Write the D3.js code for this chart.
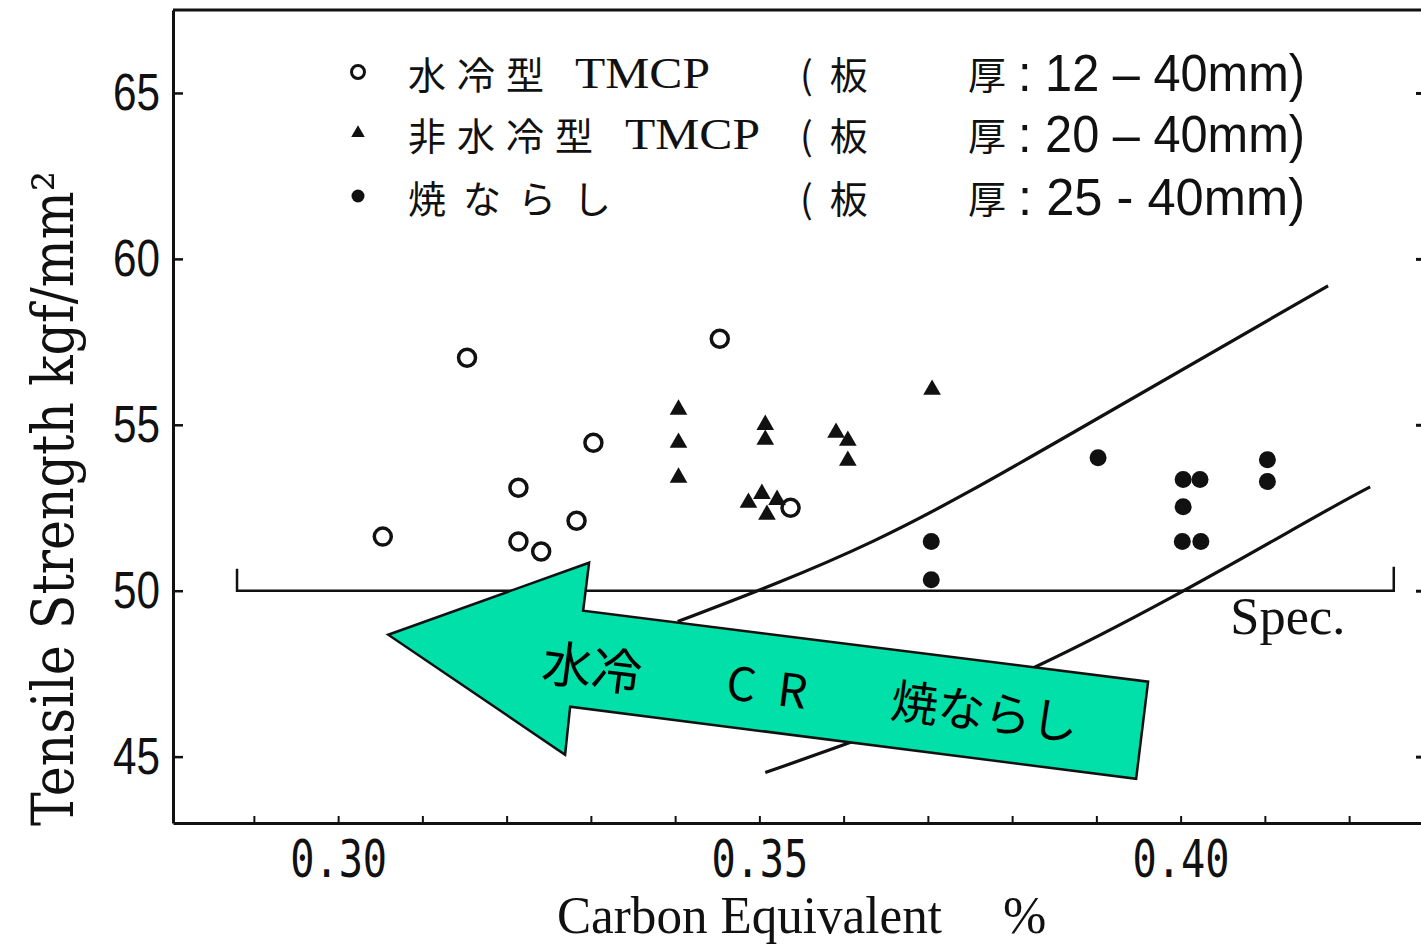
<!DOCTYPE html>
<html lang="ja">
<head>
  <meta charset="UTF-8">
  <title>Tensile Strength vs Carbon Equivalent</title>
  <style>
    html, body { margin: 0; padding: 0; background: #fff; }
    svg { display: block; }
  </style>
</head>
<body>
  <svg class="chart"></svg>
  <script src="https://cdn.jsdelivr.net/npm/d3@7"></script>
  <script>
    // tick labels
    var yTicks = [45, 50, 55, 60, 65];
    var xTicks = [0.30, 0.35, 0.40];
    var xMinorTicks = [0.29, 0.30, 0.31, 0.32, 0.33, 0.34, 0.35, 0.36, 0.37, 0.38, 0.39, 0.40, 0.41, 0.42];

    // 水冷型 TMCP (open circles): [CE %, TS kgf/mm2]
    var waterCooled = [
      [0.3053, 51.63], [0.3153, 57.02], [0.3214, 53.10], [0.3214, 51.48],
      [0.3241, 51.18], [0.3283, 52.11], [0.3303, 54.46], [0.3453, 57.59],
      [0.3537, 52.50]
    ];
    // 非水冷型 TMCP (filled triangles)
    var nonWaterCooled = [
      [0.3404, 55.46], [0.3404, 54.46], [0.3404, 53.41],
      [0.3507, 55.00], [0.3507, 54.55],
      [0.3487, 52.65], [0.3503, 52.92], [0.3521, 52.74], [0.3509, 52.29],
      [0.3591, 54.76], [0.3605, 54.52], [0.3605, 53.92],
      [0.3705, 56.06]
    ];
    // 焼ならし (filled circles)
    var normalized = [
      [0.3704, 51.48], [0.3704, 50.33], [0.3902, 54.01],
      [0.4003, 53.35], [0.4023, 53.35], [0.4003, 52.53],
      [0.4002, 51.48], [0.4024, 51.48],
      [0.4103, 53.95], [0.4103, 53.29]
    ];
    // trend lines
    var upperLine = [[0.3403, 49.07], [0.3634, 51.48], [0.3872, 54.76], [0.4175, 59.19]];
    var lowerLine = [[0.3507, 44.52], [0.3828, 47.71], [0.4133, 51.84], [0.4225, 53.13]];
    var specValue = 50;
    var specRange = [0.2880, 0.4253];

    // legend
    var legendNames = ['水冷型', '非水冷型', '焼ならし'];
    var legendCodes = ['TMCP', 'TMCP', ''];
    var legendThick = [': 12 – 40mm)', ': 20 – 40mm)', ': 25 - 40mm)'];

    // big arrow (data units)
    var arrowShape = [
      [0.30594, 48.674], [0.32979, 50.844], [0.32908, 49.397], [0.39614, 47.258],
      [0.39472, 44.334], [0.32754, 46.504], [0.32694, 45.057]
    ];
    var arrowLabels = ['水冷', 'C R', '焼ならし'];
    var arrowLabelPos = [[0.3302, 47.78], [0.3513, 47.18], [0.3768, 46.45]];
    var arrowLabelSize = [50, 46, 47];

    var svgWidth = 1421, svgHeight = 944;
    var plotLeft = 173, plotRight = 1430, plotTop = 10, plotBottom = 823;

    var svg = d3.select('svg')
      .attr('width', svgWidth)
      .attr('height', svgHeight);

    var xScale = d3.scaleLinear()
      .domain([0.2804, 0.4296])
      .range([plotLeft, plotRight]);

    var yScale = d3.scaleLinear()
      .domain([43.0, 67.5])
      .range([plotBottom, plotTop]);

    var ink = '#111';

    // frame top + right
    svg.append('line')
      .attr('x1', plotLeft).attr('x2', plotRight)
      .attr('y1', plotTop).attr('y2', plotTop)
      .attr('stroke', ink).attr('stroke-width', 3);

    svg.append('g')
      .attr('transform', `translate(${plotRight}, 0)`)
      .call(d3.axisRight(yScale).tickValues(yTicks).tickSize(-14).tickSizeOuter(0).tickFormat(''))
      .call(g => g.selectAll('line, path').attr('stroke', ink).attr('stroke-width', 3));

    // y axis
    var y_axis = d3.axisLeft(yScale)
      .tickValues(yTicks)
      .tickSize(-10)
      .tickSizeOuter(0)
      .tickPadding(13);

    svg.append('g')
      .attr('transform', `translate(${plotLeft}, 0)`)
      .call(y_axis)
      .call(g => g.select('.domain').attr('stroke', ink).attr('stroke-width', 3))
      .call(g => g.selectAll('.tick line').attr('stroke', ink).attr('stroke-width', 2.5))
      .call(g => g.selectAll('.tick text')
        .attr('fill', ink)
        .style('font-family', '"Liberation Sans Narrow", "Liberation Sans", sans-serif')
        .style('font-size', '52px')
        .attr('textLength', 47)
        .attr('lengthAdjust', 'spacingAndGlyphs'));

    // x axis: minor ticks, then labels
    svg.append('g')
      .attr('transform', `translate(0, ${plotBottom})`)
      .call(d3.axisBottom(xScale).tickValues(xMinorTicks).tickSize(-7).tickSizeOuter(0).tickFormat(''))
      .call(g => g.select('.domain').attr('stroke', ink).attr('stroke-width', 3))
      .call(g => g.selectAll('.tick line').attr('stroke', ink).attr('stroke-width', 2));

    svg.append('g')
      .attr('transform', `translate(0, ${plotBottom})`)
      .call(d3.axisBottom(xScale).tickValues(xTicks).tickSize(0).tickPadding(17).tickFormat(d3.format('.2f')))
      .call(g => g.select('.domain').remove())
      .call(g => g.selectAll('.tick text')
        .attr('fill', ink)
        .style('font-family', '"DejaVu Sans Mono", monospace')
        .style('font-size', '52px')
        .attr('textLength', 97)
        .attr('lengthAdjust', 'spacingAndGlyphs'));

    // axis titles
    svg.append('text')
      .attr('transform', 'translate(73, 826) rotate(-90)')
      .attr('fill', ink)
      .style('font-family', '"DejaVu Serif", serif')
      .style('font-size', '58px')
      .attr('textLength', 655)
      .attr('lengthAdjust', 'spacingAndGlyphs')
      .text('Tensile Strength kgf/mm²');

    svg.append('text')
      .attr('x', 557).attr('y', 933)
      .attr('fill', ink)
      .style('font-family', '"Liberation Serif", serif')
      .style('font-size', '52px')
      .attr('textLength', 385)
      .attr('lengthAdjust', 'spacingAndGlyphs')
      .text('Carbon Equivalent');

    svg.append('text')
      .attr('x', 1003).attr('y', 933)
      .attr('fill', ink)
      .style('font-family', '"Liberation Serif", serif')
      .style('font-size', '52px')
      .text('%');

    // spec line
    var specLine = d3.line();
    svg.append('path')
      .attr('d', specLine([
        [xScale(specRange[0]), yScale(specValue) - 22],
        [xScale(specRange[0]), yScale(specValue)],
        [xScale(specRange[1]), yScale(specValue)],
        [xScale(specRange[1]), yScale(specValue) - 24]
      ]))
      .attr('fill', 'none')
      .attr('stroke', ink)
      .attr('stroke-width', 2.5);

    svg.append('text')
      .attr('x', xScale(0.4059)).attr('y', yScale(specValue) + 43)
      .attr('fill', ink)
      .style('font-family', '"Liberation Serif", serif')
      .style('font-size', '52px')
      .attr('textLength', 115)
      .attr('lengthAdjust', 'spacingAndGlyphs')
      .text('Spec.');

    // trend lines
    var trend = d3.line()
      .x(d => xScale(d[0]))
      .y(d => yScale(d[1]))
      .curve(d3.curveNatural);

    [upperLine, lowerLine].forEach(function (pts) {
      svg.append('path')
        .attr('d', trend(pts))
        .attr('fill', 'none')
        .attr('stroke', ink)
        .attr('stroke-width', 3.2);
    });

    // points
    svg.selectAll('circle.water')
      .data(waterCooled)
      .enter()
      .append('circle')
      .attr('class', 'water')
      .attr('cx', d => xScale(d[0]))
      .attr('cy', d => yScale(d[1]))
      .attr('r', 8.5)
      .attr('fill', '#fff')
      .attr('stroke', ink)
      .attr('stroke-width', 3.5);

    var triangle = d3.symbol().type(d3.symbolTriangle).size(135);
    svg.selectAll('path.nonwater')
      .data(nonWaterCooled)
      .enter()
      .append('path')
      .attr('class', 'nonwater')
      .attr('d', triangle)
      .attr('transform', d => `translate(${xScale(d[0])}, ${yScale(d[1])})`)
      .attr('fill', ink);

    svg.selectAll('circle.norm')
      .data(normalized)
      .enter()
      .append('circle')
      .attr('class', 'norm')
      .attr('cx', d => xScale(d[0]))
      .attr('cy', d => yScale(d[1]))
      .attr('r', 8.5)
      .attr('fill', ink);

    // legend
    var legendY = [72, 133, 196];
    var legend = svg.append('g');

    legend.append('circle')
      .attr('cx', 358).attr('cy', legendY[0]).attr('r', 6.5)
      .attr('fill', '#fff').attr('stroke', ink).attr('stroke-width', 3);
    legend.append('path')
      .attr('d', d3.symbol().type(d3.symbolTriangle).size(80))
      .attr('transform', `translate(358, ${legendY[1]})`)
      .attr('fill', ink);
    legend.append('circle')
      .attr('cx', 358).attr('cy', legendY[2]).attr('r', 6.5)
      .attr('fill', ink);

    legendNames.forEach(function (name, i) {
      var cy = legendY[i];
      legend.append('text')
        .attr('x', 408).attr('y', cy)
        .attr('dominant-baseline', 'central')
        .attr('fill', ink)
        .style('font-family', '"Noto Sans CJK JP", sans-serif')
        .style('font-size', '38px')
        .style('letter-spacing', i === 2 ? '17px' : '11px')
        .text(name);
      if (legendCodes[i]) {
        legend.append('text')
          .attr('x', 408 + name.length * 50 + 17).attr('y', cy + 16)
          .attr('fill', ink)
          .style('font-family', '"Liberation Serif", serif')
          .style('font-size', '44px')
          .attr('textLength', 135)
          .attr('lengthAdjust', 'spacingAndGlyphs')
          .text(legendCodes[i]);
      }
      legend.append('text')
        .attr('x', 800).attr('y', cy)
        .attr('dominant-baseline', 'central')
        .attr('fill', ink)
        .style('font-family', '"Noto Sans CJK JP", sans-serif')
        .style('font-size', '38px')
        .style('white-space', 'pre')
        .text('(  板');
      legend.append('text')
        .attr('x', 968).attr('y', cy)
        .attr('dominant-baseline', 'central')
        .attr('fill', ink)
        .style('font-family', '"Noto Sans CJK JP", sans-serif')
        .style('font-size', '38px')
        .text('厚');
      legend.append('text')
        .attr('x', 1018).attr('y', cy + 19)
        .attr('fill', ink)
        .style('font-family', '"Liberation Sans Narrow", "Liberation Sans", sans-serif')
        .style('font-size', '52px')
        .attr('textLength', 287)
        .attr('lengthAdjust', 'spacingAndGlyphs')
        .text(legendThick[i]);
    });

    // big arrow annotation
    var arrowLine = d3.line()
      .x(d => xScale(d[0]))
      .y(d => yScale(d[1]));

    svg.append('path')
      .attr('d', arrowLine(arrowShape) + 'Z')
      .attr('fill', '#00e0a8')
      .attr('stroke', ink)
      .attr('stroke-width', 2.5)
      .attr('stroke-linejoin', 'miter');

    arrowLabels.forEach(function (label, i) {
      var px = xScale(arrowLabelPos[i][0]);
      var py = yScale(arrowLabelPos[i][1]);
      svg.append('text')
        .attr('transform', `translate(${px}, ${py}) rotate(7.2)`)
        .attr('text-anchor', 'middle')
        .attr('dominant-baseline', 'central')
        .attr('fill', '#000')
        .style('font-family', '"Noto Sans CJK JP", sans-serif')
        .style('font-size', arrowLabelSize[i] + 'px')
        .style('letter-spacing', i === 1 ? '6px' : '0px')
        .style('white-space', 'pre')
        .text(label);
    });
  </script>
</body>
</html>
